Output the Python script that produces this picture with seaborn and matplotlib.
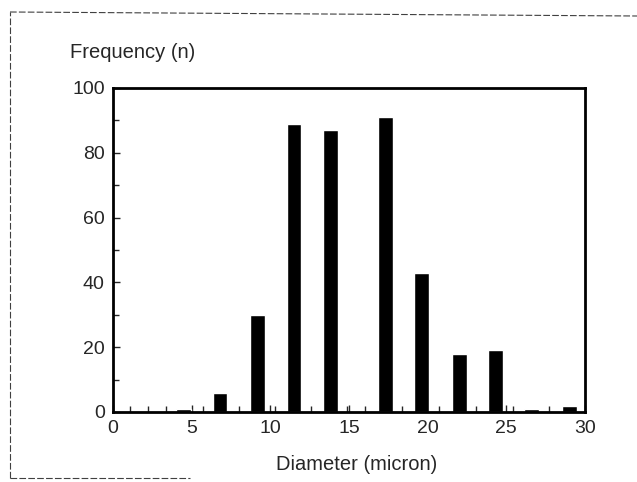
import numpy as np
import pandas as pd
import matplotlib.pyplot as plt
import seaborn as sns
from matplotlib.lines import Line2D

# values
diameter = [4.5, 6.8, 9.2, 11.5, 13.8, 17.3, 19.6, 22.0, 24.3, 26.6, 29.0]
frequency = [0.8, 6, 30, 89, 87, 91, 43, 18, 19, 0.8, 1.8]
bin_edges = [1.1, 2.25, 3.4, 5.7, 8.0, 10.3, 12.6, 14.9, 16.0, 18.4, 20.7, 23.1, 25.4, 27.7]
x_ticks = [0, 5, 10, 15, 20, 25, 30]
y_ticks = [0, 20, 40, 60, 80, 100]

df = pd.DataFrame({'diameter': diameter, 'frequency': frequency})

sns.set_style('ticks')
plt.rcParams['font.family'] = ['Liberation Sans', 'DejaVu Sans']

fig = plt.figure(figsize=(6.37, 4.82), dpi=100)
ax = fig.add_axes([113 / 637, 70 / 482, 472 / 637, 324 / 482])

sns.barplot(data=df, x='diameter', y='frequency', native_scale=True,
            color='black', width=0.41, saturation=1, ax=ax)

ax.set_xlim(0, 30)
ax.set_ylim(0, 100)
ax.set_xticks(x_ticks)
ax.set_xticks(bin_edges, minor=True)
ax.set_yticks(y_ticks)
ax.set_yticks([10, 30, 50, 70, 90], minor=True)
ax.tick_params(direction='in', length=5, width=1, labelsize=14, pad=6)
ax.tick_params(which='minor', direction='in', length=4, width=1)
ax.set_xlabel('')
ax.set_ylabel('')
for s in ax.spines.values():
    s.set_visible(True)
    s.set_linewidth(2)
    s.set_color('black')

fig.text(70 / 637, 1 - 53 / 482, 'Frequency (n)', fontsize=14.5, ha='left', va='center')
fig.text(357 / 637, 1 - 464 / 482, 'Diameter (micron)', fontsize=14.5, ha='center', va='center')

# dashed border of the scanned page
kw = dict(color='0.25', lw=0.8, ls=(0, (6, 2)), transform=fig.transFigure)
fig.add_artist(Line2D([10 / 637, 10 / 637], [1 - 478 / 482, 1 - 12 / 482], **kw))
fig.add_artist(Line2D([10 / 637, 1], [1 - 12 / 482, 1 - 16 / 482], **kw))
fig.add_artist(Line2D([10 / 637, 190 / 637], [1 - 478 / 482, 1 - 478 / 482], **kw))

fig.savefig('out.png', dpi=100, facecolor='white')
